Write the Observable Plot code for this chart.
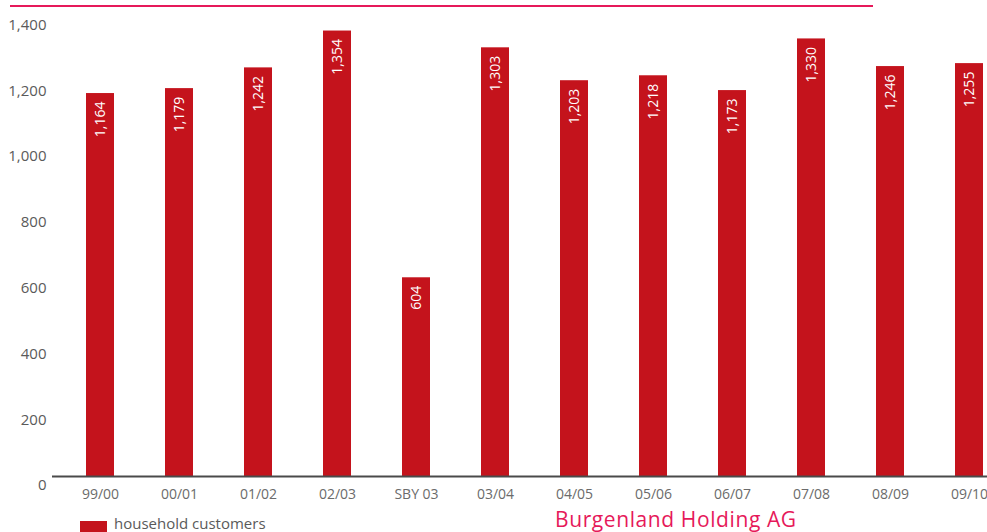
<!DOCTYPE html>
<html>
<head>
<meta charset="utf-8">
<script src="https://cdn.jsdelivr.net/npm/d3@7"></script>
<script src="https://cdn.jsdelivr.net/npm/@observablehq/plot@0.6"></script>
<style>
  html, body { margin: 0; padding: 0; background: #fff; }
  #wrap { position: relative; width: 987px; height: 532px; overflow: hidden; font-family: "Open Sans", sans-serif; }
  #chart { position: absolute; left: 0; top: 0; }
  .topline { position: absolute; left: 10px; top: 5px; width: 863px; height: 2px; background: #e6195a; }
  .legend-swatch { position: absolute; left: 80px; top: 521px; width: 27px; height: 14px; background: #c4131c; }
  .legend-text { position: absolute; left: 114px; top: 516px; font-size: 15px; line-height: 15px; color: #5a5a5a; white-space: nowrap; }
  .caption { position: absolute; left: 555px; top: 509px; font-size: 21px; line-height: 21px; letter-spacing: 0.6px; color: #e6195a; white-space: nowrap; }
</style>
</head>
<body>
<div id="wrap">
  <div id="chart"></div>
  <div class="topline"></div>
  <div class="legend-swatch"></div>
  <div class="legend-text">household customers</div>
  <div class="caption">Burgenland Holding AG</div>
</div>
<script>
const categories = ["99/00", "00/01", "01/02", "02/03", "SBY 03", "03/04", "04/05", "05/06", "06/07", "07/08", "08/09", "09/10"];
const householdCustomers = [1164, 1179, 1242, 1354, 604, 1303, 1203, 1218, 1173, 1330, 1246, 1255];
const yTicks = [0, 200, 400, 600, 800, 1000, 1200, 1400];

const data = categories.map((c, i) => ({category: c, value: householdCustomers[i]}));
const fmt = d3.format(",");

const plot = Plot.plot({
  width: 987,
  height: 532,
  marginLeft: 52,
  marginRight: 0,
  marginTop: 0,
  marginBottom: 0,
  style: {fontFamily: "Open Sans, sans-serif", background: "transparent"},
  x: {type: "band", domain: categories, range: [60.5, 1008.5], paddingInner: 0.6456, paddingOuter: 0.3228, axis: null},
  y: {domain: [0, 1400], range: [476, 15.4], axis: null},
  marks: [
    Plot.barY(data, {x: "category", y: "value", fill: "#c4131c"}),
    Plot.ruleY([0], {stroke: "#4a4a4a", strokeWidth: 2}),
    Plot.text(data, {
      x: "category", y: "value", text: d => fmt(d.value),
      rotate: -90, textAnchor: "end", lineAnchor: "middle", dy: 8,
      fill: "white", fontSize: 14
    }),
    Plot.text(yTicks, {
      y: d => d, text: d => fmt(d), frameAnchor: "left",
      textAnchor: "end", dx: -6, dy: 9, fill: "#5a5a5a", fontSize: 15
    }),
    Plot.text(categories, {
      x: d => d, y: () => 0, text: d => d, dy: 18,
      textAnchor: "middle", fill: "#6b6b6b", fontSize: 14
    })
  ]
});
document.getElementById("chart").appendChild(plot);
</script>
</body>
</html>
